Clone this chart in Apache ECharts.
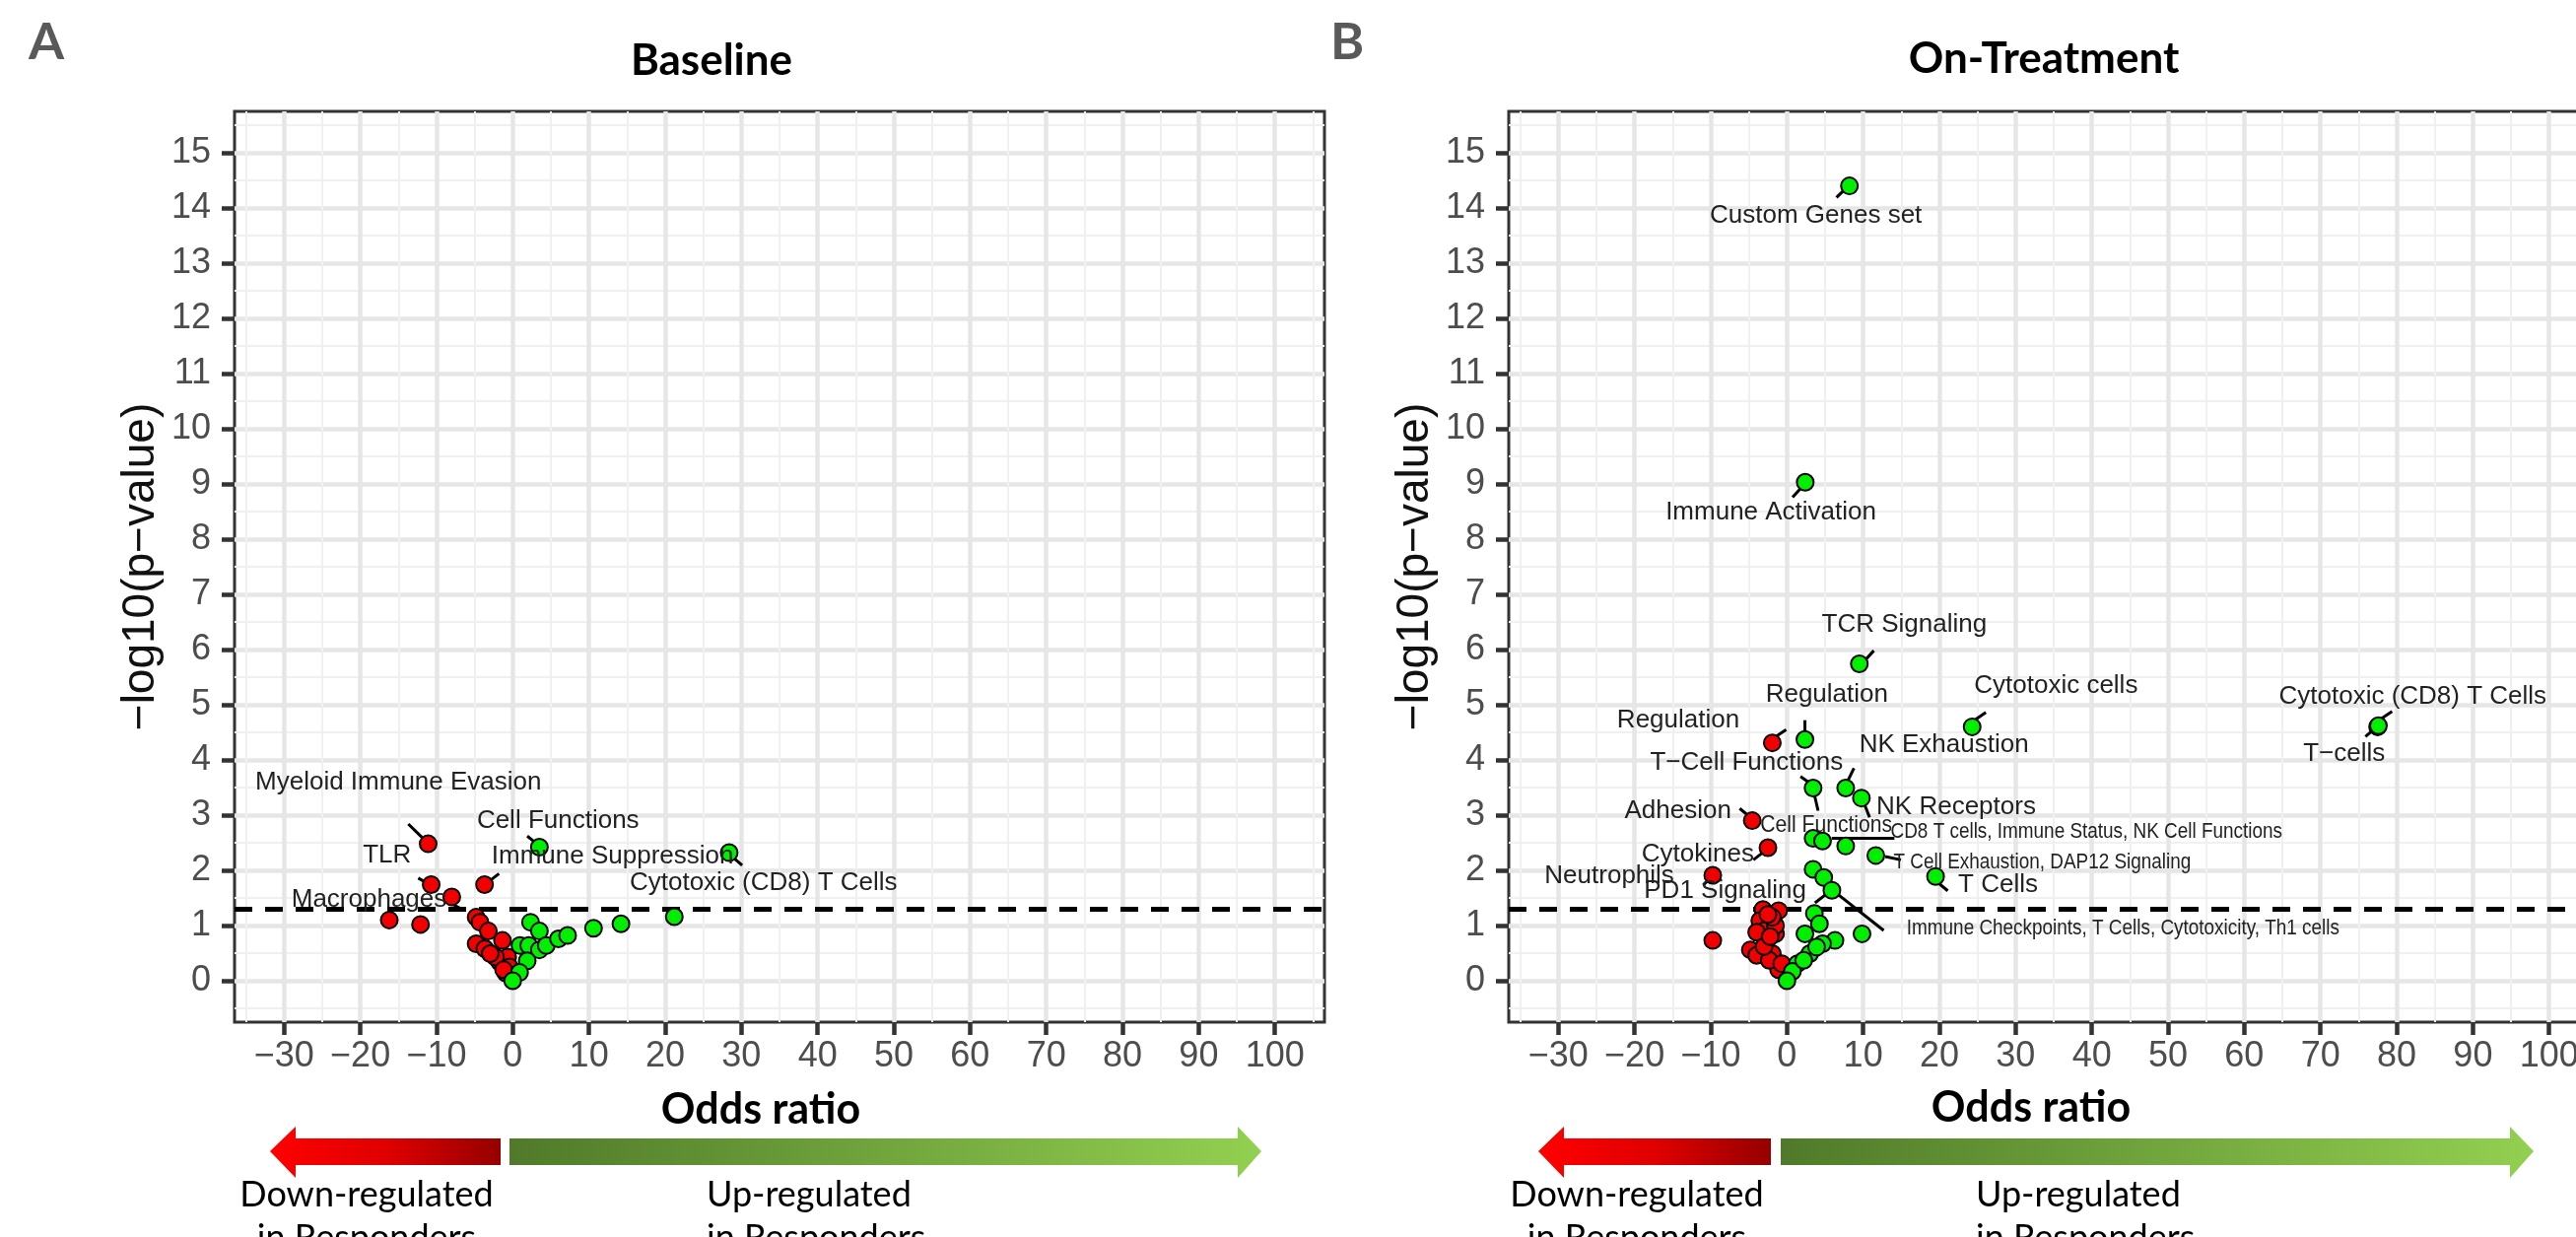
<!DOCTYPE html>
<html>
<head>
<meta charset="utf-8">
<script src="https://cdn.jsdelivr.net/npm/echarts@6/dist/echarts.min.js"></script>
<style>
html,body{margin:0;padding:0;background:#fff;}
#chart{width:2614px;height:1255px;}
</style>
</head>
<body>
<div id="chart"></div>
<script>
// ---------- tick values ----------
const xMajorTicks = [-30,-20,-10,0,10,20,30,40,50,60,70,80,90,100];
const xMinorTicks = [-35,-25,-15,-5,5,15,25,35,45,55,65,75,85,95,105];
const yMajorTicks = [0,1,2,3,4,5,6,7,8,9,10,11,12,13,14,15];
const yMinorTicks = [-0.5,0.5,1.5,2.5,3.5,4.5,5.5,6.5,7.5,8.5,9.5,10.5,11.5,12.5,13.5,14.5,15.5];
const pThreshold = 1.301; // -log10(0.05)

// ---------- Panel A : Baseline ----------
const baselineDown = [[-11.1,2.48],[-10.7,1.74],[-8.0,1.52],[-3.7,1.74],[-16.2,1.1],[-12.1,1.02],
  [-4.8,1.15],[-4.3,1.06],[-3.2,0.9],[-4.8,0.67],[-3.65,0.58],[-1.35,0.73],[-1.7,0.34],[-0.66,0.43],
  [-0.9,0.14],[-2.27,0.43],[-2.95,0.49],[-0.43,0.25],[-1.2,0.2]];
const baselineUp = [[3.5,2.42],[28.4,2.32],[2.34,1.06],[3.5,0.9],[0.95,0.64],[2.1,0.64],[3.5,0.56],
  [4.4,0.64],[6.0,0.76],[7.2,0.82],[10.6,0.95],[14.2,1.03],[21.2,1.16],[1.9,0.36],[0.9,0.15],[0,0]];
const baselineLabels = [
  [-15.0,3.59,'Myeloid Immune Evasion'],
  [-16.5,2.27,'TLR'],
  [-18.85,1.47,'Macrophages'],
  [5.94,2.9,'Cell Functions'],
  [13.1,2.25,'Immune Suppression'],
  [32.9,1.77,'Cytotoxic (CD8) T Cells']
];
const baselineSegments = [
  [-13.7,2.84,-11.7,2.57],
  [-12.4,1.86,-11.0,1.75],
  [-7.8,1.38,-6.3,1.27],
  [1.9,2.62,3.26,2.47],
  [-3.4,1.77,-1.8,1.94],
  [28.6,2.27,30.1,2.09]
];

// ---------- Panel B : On-Treatment ----------
const treatDown = [[-1.92,4.31],[-4.55,2.9],[-2.49,2.41],[-9.73,1.91],[-9.73,0.73],[-4.8,0.56],
  [-3.15,1.29],[-1.1,1.27],[-3.56,1.09],[-2.9,0.91],[-1.5,0.85],[-2.74,0.7],[-1.92,0.49],[-1.1,0.2],
  [-3.97,0.46],[-2.32,0.37],[-1.5,1.0],[-1.92,1.15],[-3.97,0.88],[-0.68,0.31],[-2.5,1.2],[-3.0,0.62],[-2.2,0.8]];
const treatUp = [[8.2,14.4],[2.4,9.03],[9.5,5.74],[2.36,4.37],[24.3,4.6],[77.5,4.6],[77.6,4.62],
  [3.43,3.49],[7.71,3.49],[9.77,3.31],[3.43,2.58],[4.67,2.53],[7.71,2.44],[11.66,2.27],[19.5,1.89],
  [3.43,2.02],[4.83,1.87],[5.9,1.64],[3.6,1.22],[4.26,1.03],[2.36,0.85],[9.85,0.85],[6.3,0.73],
  [4.67,0.67],[3.0,0.49],[1.38,0.31],[0.72,0.17],[0,0],[2.2,0.37],[3.9,0.61]];
const treatLabels = [
  [3.8,13.86,'Custom Genes set'],
  [-2.1,8.48,'Immune Activation'],
  [15.4,6.45,'TCR Signaling'],
  [5.24,5.18,'Regulation'],
  [-14.26,4.72,'Regulation'],
  [35.3,5.34,'Cytotoxic cells'],
  [20.6,4.27,'NK Exhaustion'],
  [-5.3,3.95,'T\u2212Cell Functions'],
  [22.2,3.14,'NK Receptors'],
  [-14.3,3.08,'Adhesion'],
  [-11.7,2.29,'Cytokines'],
  [-23.3,1.89,'Neutrophils'],
  [27.7,1.74,'T Cells'],
  [-8.1,1.63,'PD1 Signaling'],
  [82.1,5.15,'Cytotoxic (CD8) T Cells'],
  [73.1,4.11,'T\u2212cells']
];
const treatNarrowLabels = [
  [39.3,2.69,'CD8 T cells, Immune Status, NK Cell Functions'],
  [33.5,2.14,'T Cell Exhaustion, DAP12 Signaling'],
  [44.1,0.94,'Immune Checkpoints, T Cells, Cytotoxicity, Th1 cells']
];
const treatNarrowSmall = [
  [5.16,2.81,'Cell Functions']
];
const treatSegments = [
  [6.5,14.19,7.76,14.36],
  [0.74,8.76,1.8,8.92],
  [10.2,5.8,11.4,5.98],
  [2.36,4.5,2.36,4.72],
  [-1.5,4.42,-0.1,4.55],
  [24.5,4.71,26.1,4.86],
  [7.9,3.6,8.8,3.85],
  [1.78,3.7,3.0,3.58],
  [3.6,3.37,4.09,3.08],
  [10.0,3.26,10.84,2.96],
  [5.9,2.58,14.1,2.58],
  [12.9,2.25,14.95,2.19],
  [19.6,1.8,21.1,1.63],
  [5.9,1.65,12.7,0.91],
  [3.68,1.41,5.08,1.56],
  [-11.0,1.73,-10.2,1.84],
  [-4.4,2.19,-2.9,2.35],
  [-6.2,3.12,-4.8,2.96],
  [78.0,4.75,79.4,4.88],
  [75.9,4.42,77.3,4.59]
];

// ---------- styling ----------
const SANS = '"Liberation Sans", Arial, sans-serif';
const TITLE = 'Lato, "Open Sans", sans-serif';
const RED = '#f20000', GREEN = '#00ee00';

const chart = echarts.init(document.getElementById('chart'), null, {renderer:'canvas'});

function fmtMinus(v){ return v < 0 ? '\u2212' + Math.abs(v) : String(v); }

function minorX(grid){ return {gridIndex:grid, type:'value', position:'top', min:-36.5, max:106.5,
  axisLine:{show:false, onZero:false}, axisTick:{show:false, customValues:xMinorTicks},
  axisLabel:{show:false, customValues:xMinorTicks},
  splitLine:{show:true, lineStyle:{color:'#f0f0f0', width:2}}}; }
function majorX(grid){ return {gridIndex:grid, type:'value', position:'bottom', min:-36.5, max:106.5,
  axisLine:{show:false, onZero:false},
  axisTick:{show:true, customValues:xMajorTicks, length:13, lineStyle:{color:'#333', width:4.5}},
  axisLabel:{customValues:xMajorTicks, formatter:fmtMinus, color:'#4d4d4d', fontSize:36, fontFamily:SANS, margin:17},
  splitLine:{show:true, lineStyle:{color:'#e6e6e6', width:4.5}}}; }
function minorY(grid){ return {gridIndex:grid, type:'value', position:'right', min:-0.75, max:15.75,
  axisLine:{show:false, onZero:false}, axisTick:{show:false, customValues:yMinorTicks},
  axisLabel:{show:false, customValues:yMinorTicks},
  splitLine:{show:true, lineStyle:{color:'#f0f0f0', width:2}}}; }
function majorY(grid){ return {gridIndex:grid, type:'value', position:'left', min:-0.75, max:15.75,
  axisLine:{show:false, onZero:false},
  axisTick:{show:true, customValues:yMajorTicks, length:13, lineStyle:{color:'#333', width:4.5}},
  axisLabel:{customValues:yMajorTicks, color:'#4d4d4d', fontSize:36, fontFamily:SANS, margin:24},
  name:'\u2212log10(p\u2212value)', nameLocation:'middle', nameRotate:90, nameGap:72,
  nameTextStyle:{fontSize:46, fontFamily:SANS, color:'#111'},
  splitLine:{show:true, lineStyle:{color:'#e6e6e6', width:4.5}}}; }

function pointSeries(data, color, xi, yi, withLine){
  const s = {type:'scatter', xAxisIndex:xi, yAxisIndex:yi, data:data, symbol:'circle', symbolSize:17,
    itemStyle:{color:color, borderColor:'#000', borderWidth:2, opacity:1}, z:5};
  if (withLine) {
    s.markLine = {silent:true, symbol:['none','none'], label:{show:false},
      lineStyle:{color:'#000', width:5, type:[18,13]}, data:[{yAxis:pThreshold}], z:4};
  }
  return s;
}
function segmentSeries(segs, xi, yi){
  return {type:'custom', xAxisIndex:xi, yAxisIndex:yi, data:segs, z:4, silent:true,
    renderItem:function(params, api){
      const a = api.coord([api.value(0), api.value(1)]);
      const b = api.coord([api.value(2), api.value(3)]);
      return {type:'line', shape:{x1:a[0], y1:a[1], x2:b[0], y2:b[1]}, style:{stroke:'#000', lineWidth:3}};
    }};
}
function labelSeries(list, xi, yi, fontSize, squeeze){
  return {type:'custom', xAxisIndex:xi, yAxisIndex:yi, data:list.map(d=>[d[0], d[1]]), z:6, silent:true,
    renderItem:function(params, api){
      const p = api.coord([api.value(0), api.value(1)]);
      return {type:'text', x:p[0], y:p[1], scaleX:squeeze, scaleY:1, style:{text:list[params.dataIndex][2], fontSize:fontSize,
        fontFamily:SANS, fill:'#222', align:'center', verticalAlign:'middle'}};
    }};
}

function arrow(points, stops){
  return {type:'polygon', shape:{points:points}, style:{fill:{type:'linear', x:0, y:0, x2:1, y2:0, colorStops:stops}}};
}
const redStops = [{offset:0, color:'#ff0000'},{offset:0.5, color:'#e00000'},{offset:1, color:'#960000'}];
const greenStops = [{offset:0, color:'#507a2a'},{offset:1, color:'#92d050'}];

function txt(x, y, text, size, family, weight, color, align){
  return {type:'text', x:x, y:y, style:{text:text, fontSize:size, fontFamily:family, fontWeight:weight,
    fill:color, align:align || 'center', verticalAlign:'middle', lineHeight:Math.round(size*1.2)}};
}

const option = {
  animation:false,
  backgroundColor:'#ffffff',
  grid:[
    {left:238, width:1106, top:113, bottom:218, show:true, borderColor:'#333', borderWidth:3, backgroundColor:'#fff',
     containLabel:false, outerBoundsMode:'none'},
    {left:1531, width:1106, top:113, bottom:218, show:true, borderColor:'#333', borderWidth:3, backgroundColor:'#fff',
     containLabel:false, outerBoundsMode:'none'}
  ],
  xAxis:[minorX(0), majorX(0), minorX(1), majorX(1)],
  yAxis:[minorY(0), majorY(0), minorY(1), majorY(1)],
  series:[
    segmentSeries(baselineSegments, 1, 1),
    pointSeries(baselineDown, RED, 1, 1, true),
    pointSeries(baselineUp, GREEN, 1, 1, false),
    labelSeries(baselineLabels, 1, 1, 26, 1),
    segmentSeries(treatSegments, 3, 3),
    pointSeries(treatDown, RED, 3, 3, true),
    pointSeries(treatUp, GREEN, 3, 3, false),
    labelSeries(treatLabels, 3, 3, 26, 1),
    labelSeries(treatNarrowLabels, 3, 3, 22, 0.86),
    labelSeries(treatNarrowSmall, 3, 3, 24, 0.88)
  ],
  graphic:[
    txt(47, 43, 'A', 52, TITLE, 'bold', '#595959'),
    txt(1367, 43, 'B', 52, TITLE, 'bold', '#595959'),
    txt(722, 62, 'Baseline', 44, TITLE, 'bold', '#000'),
    txt(2074, 60, 'On-Treatment', 44, TITLE, 'bold', '#000'),
    txt(772, 1126, 'Odds ratio', 43, TITLE, 'bold', '#000'),
    txt(2061, 1124, 'Odds ratio', 43, TITLE, 'bold', '#000'),
    arrow([[274,1168],[300,1143],[300,1155],[508,1155],[508,1182],[300,1182],[300,1195]], redStops),
    arrow([[517,1155],[1256,1155],[1256,1143],[1280,1168],[1256,1195],[1256,1182],[517,1182]], greenStops),
    arrow([[1561,1168],[1587,1143],[1587,1155],[1797,1155],[1797,1182],[1587,1182],[1587,1195]], redStops),
    arrow([[1807,1155],[2547,1155],[2547,1143],[2571,1168],[2547,1195],[2547,1182],[1807,1182]], greenStops),
    {type:'text', x:372, y:1190, style:{text:'Down-regulated\nin Responders', fontSize:36, fontFamily:TITLE, fill:'#000', align:'center', verticalAlign:'top', lineHeight:44}},
    {type:'text', x:717, y:1190, style:{text:'Up-regulated\nin Responders', fontSize:36, fontFamily:TITLE, fill:'#000', align:'left', verticalAlign:'top', lineHeight:44}},
    {type:'text', x:1661, y:1190, style:{text:'Down-regulated\nin Responders', fontSize:36, fontFamily:TITLE, fill:'#000', align:'center', verticalAlign:'top', lineHeight:44}},
    {type:'text', x:2005, y:1190, style:{text:'Up-regulated\nin Responders', fontSize:36, fontFamily:TITLE, fill:'#000', align:'left', verticalAlign:'top', lineHeight:44}}
  ]
};
chart.setOption(option);
</script>
</body>
</html>
